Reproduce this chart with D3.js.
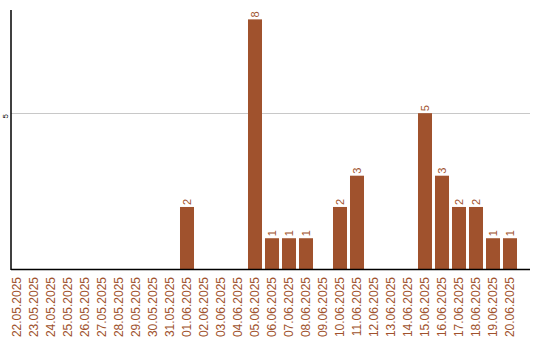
<html>
<head>
<style>
  body { margin: 0; background: #fff; }
  svg { display: block; }
  .lbl { font-family: 'Liberation Sans', Arial, sans-serif; }
</style>
</head>
<body>
<svg width="540" height="340"></svg>
<script src="https://d3js.org/d3.v7.min.js"></script>
<script>
const dates = ["22.05.2025","23.05.2025","24.05.2025","25.05.2025","26.05.2025","27.05.2025",
  "28.05.2025","29.05.2025","30.05.2025","31.05.2025","01.06.2025","02.06.2025","03.06.2025",
  "04.06.2025","05.06.2025","06.06.2025","07.06.2025","08.06.2025","09.06.2025","10.06.2025",
  "11.06.2025","12.06.2025","13.06.2025","14.06.2025","15.06.2025","16.06.2025","17.06.2025",
  "18.06.2025","19.06.2025","20.06.2025"];
const counts = [0,0,0,0,0,0,0,0,0,0,2,0,0,0,8,1,1,1,0,2,3,0,0,0,5,3,2,2,1,1];
const yTicks = [5];

const color = "#A0522D";
let svg = d3.select("svg");

let x = d3.scaleBand()
    .domain(dates)
    .range([8.5, 518.5])
    .paddingInner(0.176)
    .paddingOuter(0.088);

let y = d3.scaleLinear()
    .domain([0, 8.3])
    .range([269.5, 10]);

// grid
svg.append("g")
    .selectAll("line")
    .data(yTicks)
    .enter().append("line")
    .attr("x1", 11).attr("x2", 530)
    .attr("y1", d => Math.round(y(d)) + 0.5)
    .attr("y2", d => Math.round(y(d)) + 0.5)
    .style("stroke", "#c8c8c8");

// tick labels
svg.append("g")
    .selectAll("text")
    .data(yTicks)
    .enter().append("text")
    .attr("class", "lbl")
    .attr("transform", d => `translate(8,${y(d) + 3}) rotate(-90)`)
    .attr("text-anchor", "middle")
    .style("font-size", "8px")
    .style("fill", "#000")
    .text(d => d);

// bars
let data = dates.map((d, i) => ({date: d, v: counts[i]}));
svg.append("g")
    .selectAll("rect")
    .data(data.filter(d => d.v > 0))
    .enter().append("rect")
    .attr("x", d => x(d.date))
    .attr("width", x.bandwidth())
    .attr("y", d => y(d.v))
    .attr("height", d => y(0) - y(d.v))
    .style("fill", color);

// value labels
svg.append("g")
    .selectAll("text")
    .data(data.filter(d => d.v > 0))
    .enter().append("text")
    .attr("class", "lbl")
    .attr("transform", d => `translate(${x(d.date) + x.bandwidth() / 2 + 4},${y(d.v) - 2}) rotate(-90)`)
    .style("font-size", "11px")
    .style("fill", color)
    .text(d => d.v);

// axes lines
svg.append("line")
    .attr("x1", 11).attr("x2", 11).attr("y1", 10).attr("y2", 270)
    .style("stroke", "#000").style("stroke-width", 1.5);
svg.append("line")
    .attr("x1", 11).attr("x2", 530).attr("y1", 269.5).attr("y2", 269.5)
    .style("stroke", "#000").style("stroke-width", 1.5);

// x labels
svg.append("g")
    .selectAll("text")
    .data(dates)
    .enter().append("text")
    .attr("class", "lbl")
    .attr("transform", d => `translate(${x(d) + x.bandwidth() / 2 + 4},277) rotate(-90)`)
    .attr("text-anchor", "end")
    .style("font-size", "12px")
    .style("fill", color)
    .text(d => d);
</script>
</body>
</html>
